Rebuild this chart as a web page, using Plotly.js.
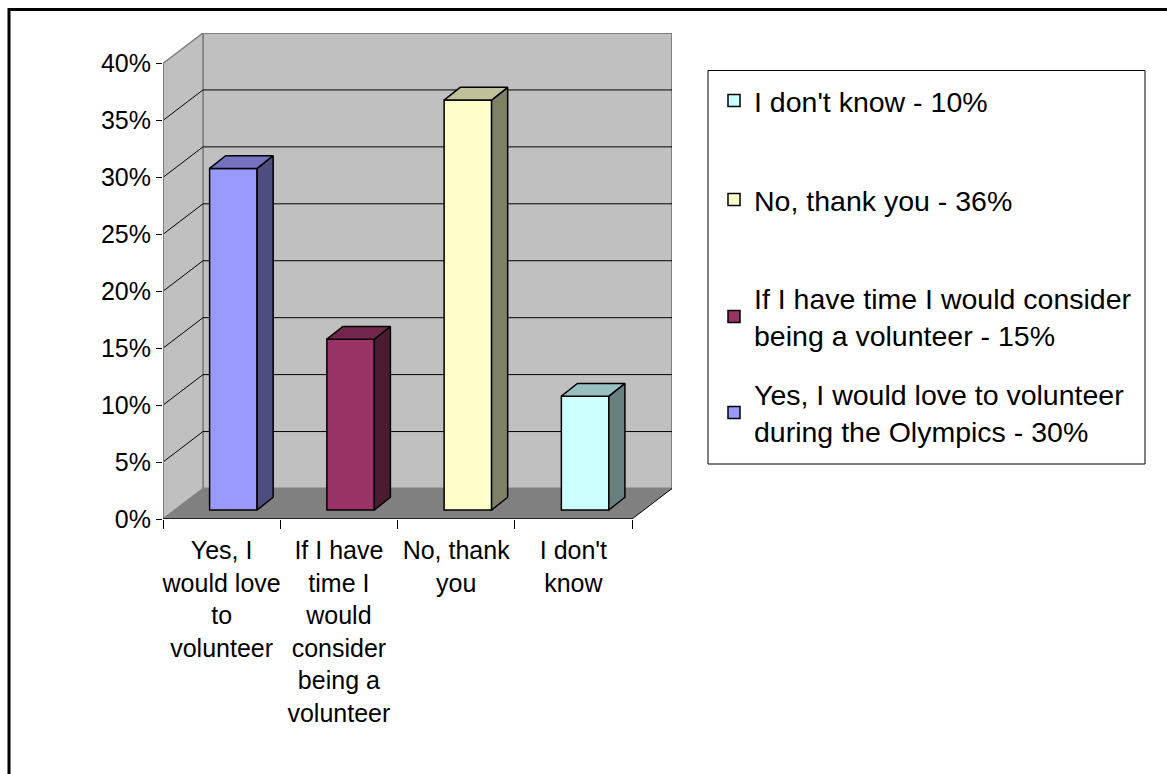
<!DOCTYPE html>
<html>
<head>
<meta charset="utf-8">
<script src="https://cdn.plot.ly/plotly-3.0.1.min.js"></script>
<style>
  html, body { margin: 0; padding: 0; background: #fff; }
  #chart { width: 1167px; height: 774px; }
</style>
</head>
<body>
<div id="chart"></div>
<script>
// survey answers
var categories = ["Yes, I would love to volunteer", "If I have time I would consider being a volunteer", "No, thank you", "I don't know"];
var tickLabels = ["Yes, I<br>would love<br>to<br>volunteer", "If I have<br>time I<br>would<br>consider<br>being a<br>volunteer", "No, thank<br>you", "I don't<br>know"];
var legendNames = ["Yes, I would love to volunteer<br>during the Olympics - 30%", "If I have time I would consider<br>being a volunteer - 15%", "No, thank you - 36%", "I don't know - 10%"];
var values = [30, 15, 36, 10];

var frontColors = ["#9999FF", "#993366", "#FFFFCC", "#CCFFFF"];
var sideColors = ["#4D4D80", "#4D1A33", "#808066", "#668080"];
var topColors = ["#7373BF", "#73264D", "#C0C09A", "#99C0C0"];

// fake 3d depth, in axis units
var DX = 0.341, DY = 2.68;        // whole box
var OFFX = 0.10, OFFY = 0.79;     // bar front plane
var BDX = 0.137, BDY = 1.12;      // bar depth
var BW = 0.405;                   // bar width

var FONT = "Liberation Sans, Arial, sans-serif";

// pixel -> paper helpers for the frame and legend box
var PL = 163, PR = 672, PT = 33, PB = 519;
function xp(px) { return (px - PL) / (PR - PL); }
function yp(py) { return (PB - py) / (PB - PT); }

var data = [];
var legendIds = ["legend4", "legend3", "legend2", "legend"];

values.forEach(function(v, i) {
  data.push({
    type: "bar",
    x: [i + OFFX],
    y: [v],
    base: [OFFY],
    width: [BW],
    name: legendNames[i],
    legend: legendIds[i],
    marker: { color: frontColors[i], line: { color: "#000", width: 1.5 } },
    hovertemplate: categories[i] + ": %{y}%<extra></extra>"
  });
});

// side and top faces of every bar
values.forEach(function(v, i) {
  var xl = i + OFFX - BW / 2, xr = i + OFFX + BW / 2;
  var b = OFFY, t = OFFY + v;
  data.push({
    type: "scatter", mode: "lines", fill: "toself",
    x: [xr, xr + BDX, xr + BDX, xr, xr],
    y: [b, b + BDY, t + BDY, t, b],
    fillcolor: sideColors[i],
    line: { color: "#000", width: 1.5 },
    showlegend: false, hoverinfo: "skip"
  });
  data.push({
    type: "scatter", mode: "lines", fill: "toself",
    x: [xl, xr, xr + BDX, xl + BDX, xl],
    y: [t, t, t + BDY, t + BDY, t],
    fillcolor: topColors[i],
    line: { color: "#000", width: 1.5 },
    showlegend: false, hoverinfo: "skip"
  });
});

var x0 = -0.5, x1 = 3.5, yTop = 40;
var shapes = [
  // back wall
  { type: "rect", layer: "below", x0: x0 + DX, x1: x1 + DX, y0: DY, y1: yTop + DY,
    fillcolor: "#C0C0C0", line: { color: "#808080", width: 2 } },
  // side wall
  { type: "path", layer: "below",
    path: "M" + x0 + "," + 0 + " L" + (x0 + DX) + "," + DY + " L" + (x0 + DX) + "," + (yTop + DY) + " L" + x0 + "," + yTop + " Z",
    fillcolor: "#C0C0C0", line: { color: "#808080", width: 1.5 } },
  // floor
  { type: "path", layer: "below",
    path: "M" + x0 + ",0 L" + x1 + ",0 L" + (x1 + DX) + "," + DY + " L" + (x0 + DX) + "," + DY + " Z",
    fillcolor: "#808080", line: { width: 0 } }
];

// gridlines on walls
for (var g = 5; g < 40; g += 5) {
  shapes.push({ type: "line", layer: "below", x0: x0 + DX, x1: x1 + DX, y0: g + DY, y1: g + DY,
    line: { color: "#000", width: 1 } });
  shapes.push({ type: "line", layer: "below", x0: x0, x1: x0 + DX, y0: g, y1: g + DY,
    line: { color: "#000", width: 1 } });
}
// axis edges
shapes.push({ type: "line", layer: "below", x0: x0, x1: x0, y0: 0, y1: yTop, line: { color: "#808080", width: 2 } });
shapes.push({ type: "line", layer: "below", x0: x0, x1: x1, y0: 0, y1: 0, line: { color: "#000", width: 1.5 } });
shapes.push({ type: "line", layer: "below", x0: x1, x1: x1 + DX, y0: 0, y1: DY, line: { color: "#000", width: 1 } });

// chart frame (only top and left edges show)
shapes.push({ type: "path", xref: "paper", yref: "paper",
  path: "M" + xp(9) + "," + yp(780) + " L" + xp(9) + "," + yp(9.5) + " L" + xp(1175) + "," + yp(9.5),
  line: { color: "#000", width: 3 } });
// legend box
shapes.push({ type: "rect", xref: "paper", yref: "paper",
  x0: xp(708), x1: xp(1145), y0: yp(70.5), y1: yp(464),
  line: { color: "#000", width: 1 }, fillcolor: "rgba(0,0,0,0)" });

function legendAt(py) {
  return {
    xref: "container", yref: "container",
    x: 714 / 1167, y: 1 - py / 774, xanchor: "left", yanchor: "middle",
    bgcolor: "rgba(0,0,0,0)", borderwidth: 0,
    font: { family: FONT, size: 28.5, color: "#000" }
  };
}

var layout = {
  width: 1167,
  height: 774,
  margin: { l: PL, r: 1167 - PR, t: PT, b: 774 - PB },
  paper_bgcolor: "#fff",
  plot_bgcolor: "#fff",
  font: { family: FONT, color: "#000" },
  showlegend: true,
  legend: legendAt(101),
  legend2: legendAt(200),
  legend3: legendAt(317),
  legend4: legendAt(413),
  xaxis: {
    range: [x0, x1 + DX],
    tickmode: "array",
    tickvals: [0, 1, 2, 3],
    ticktext: tickLabels,
    ticks: "",
    ticklabelstandoff: 14,
    minor: { tickmode: "array", tickvals: [-0.5, 0.5, 1.5, 2.5, 3.5], ticks: "outside", ticklen: 9, tickcolor: "#000", tickwidth: 1, showgrid: false },
    showgrid: false, zeroline: false, showline: false,
    tickfont: { family: FONT, size: 25, color: "#000" },
    fixedrange: true
  },
  yaxis: {
    range: [0, yTop + DY],
    tickmode: "linear", tick0: 0, dtick: 5,
    ticksuffix: "%",
    ticks: "outside", ticklen: 6, tickcolor: "#000", tickwidth: 1,
    showgrid: false, zeroline: false, showline: false,
    tickfont: { family: FONT, size: 25, color: "#000" },
    fixedrange: true
  },
  shapes: shapes
};

Plotly.newPlot("chart", data, layout, { displayModeBar: false, staticPlot: true });
</script>
</body>
</html>
